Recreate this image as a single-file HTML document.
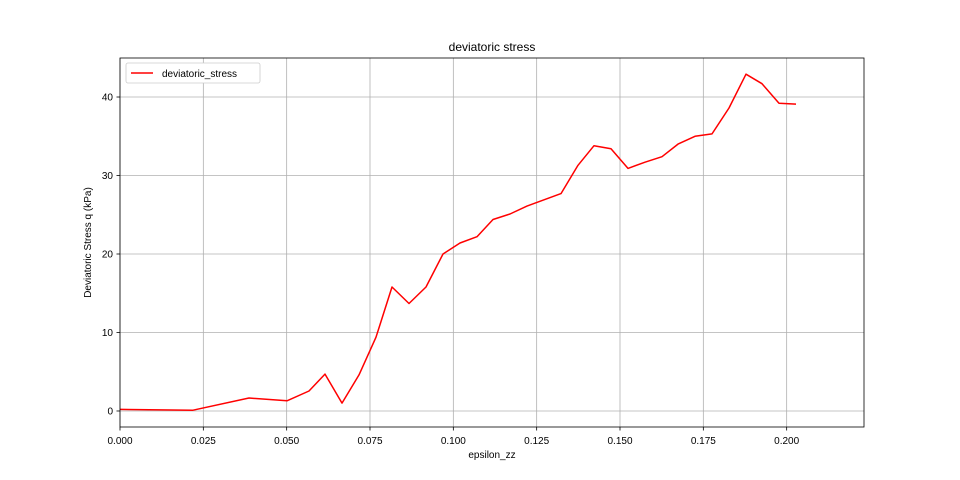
<!DOCTYPE html>
<html><head><meta charset="utf-8"><style>
body{margin:0;background:#fff;}
svg{display:block;font-family:"Liberation Sans","DejaVu Sans",sans-serif;}
</style></head><body>
<svg id="chart" width="960" height="480"></svg>
<script>
const xValues=[0,0.0219,0.0387,0.0501,0.0567,0.0615,0.0666,0.0717,0.0768,0.0816,0.0867,0.0918,0.0969,0.102,0.1071,0.1119,0.117,0.1221,0.1272,0.1323,0.1374,0.1422,0.1473,0.1524,0.1575,0.1626,0.1674,0.1725,0.1776,0.1827,0.1878,0.1926,0.1977,0.2028];
const yValues=[0.2,0.1,1.65,1.3,2.55,4.7,1.0,4.6,9.4,15.8,13.7,15.8,20.0,21.4,22.2,24.4,25.1,26.1,26.9,27.7,31.3,33.8,33.4,30.9,31.7,32.4,34.0,35.0,35.3,38.6,42.9,41.7,39.2,39.1];
const xTicks=[0,0.025,0.05,0.075,0.1,0.125,0.15,0.175,0.2];
const xTickLabels=["0.000","0.025","0.050","0.075","0.100","0.125","0.150","0.175","0.200"];
const yTicks=[0,10,20,30,40];
const yTickLabels=["0","10","20","30","40"];
const L=120,R=864,T=58,B=427,xMin=0,xMax=0.2232,yMin=-2.04,yMax=44.97;
const sx=v=>L+(v-xMin)/(xMax-xMin)*(R-L);
const sy=v=>B-(v-yMin)/(yMax-yMin)*(B-T);
const NS="http://www.w3.org/2000/svg",svg=document.getElementById('chart');
function mk(tag,attrs,parent,text){const e=document.createElementNS(NS,tag);for(const k in attrs)e.setAttribute(k,attrs[k]);if(text!==undefined)e.textContent=text;(parent||svg).appendChild(e);return e;}
const grid=mk('g',{});


xTicks.forEach((t,i)=>{const x=sx(t);
 const g=mk('line',{x1:x,x2:x,y1:T,y2:B,stroke:'#b0b0b0','stroke-width':0.8},grid);
 
 
 const tk=mk('line',{x1:x,x2:x,y1:B,y2:B+3.5,stroke:'#000','stroke-width':0.8});
 
 
 const lb=mk('text',{x:x,y:B+17,'text-anchor':'middle','font-size':10},null,xTickLabels[i]);
 
 
});
yTicks.forEach((t,i)=>{const y=sy(t);
 const g=mk('line',{x1:L,x2:R,y1:y,y2:y,stroke:'#b0b0b0','stroke-width':0.8},grid);
 
 
 const tk=mk('line',{x1:L-3.5,x2:L,y1:y,y2:y,stroke:'#000','stroke-width':0.8});
 
 
 const lb=mk('text',{x:L-7,y:y+3.5,'text-anchor':'end','font-size':10},null,yTickLabels[i]);
 
 
});
const pts=xValues.map((x,i)=>sx(x).toFixed(1)+','+sy(yValues[i]).toFixed(1)).join(' ');
const line=mk('polyline',{points:pts,fill:'none',stroke:'#ff0000','stroke-width':1.5,'stroke-linejoin':'round'});


const frame=mk('rect',{x:L,y:T,width:R-L,height:B-T,fill:'none',stroke:'#000','stroke-width':0.8});


const title=mk('text',{x:(L+R)/2,y:51,'text-anchor':'middle','font-size':12},null,'deviatoric stress');


const xt=mk('text',{x:(L+R)/2,y:458,'text-anchor':'middle','font-size':10},null,'epsilon_zz');


const yt=mk('text',{x:91,y:(T+B)/2,'text-anchor':'middle','font-size':10,transform:'rotate(-90 91 '+((T+B)/2)+')'},null,'Deviatoric Stress q (kPa)');


const lg=mk('g',{});


mk('rect',{x:126,y:63,width:134,height:20,rx:2,fill:'#fff',stroke:'#ccc','stroke-width':0.8},lg);
mk('line',{x1:131,x2:153,y1:73,y2:73,stroke:'#ff0000','stroke-width':1.5},lg);
mk('text',{x:162,y:77,'font-size':10},lg,'deviatoric_stress');
</script>
</body></html>
